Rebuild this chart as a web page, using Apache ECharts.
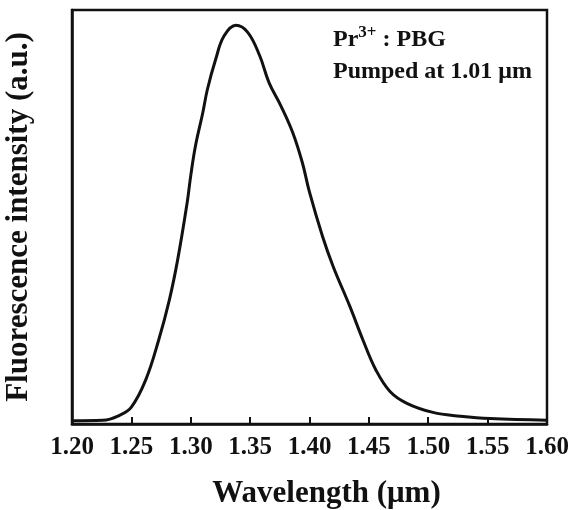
<!DOCTYPE html>
<html>
<head>
<meta charset="utf-8">
<script src="https://cdn.jsdelivr.net/npm/echarts@6/dist/echarts.min.js"></script>
<style>
  html, body { margin: 0; padding: 0; background: #fff; }
  #chart { width: 578px; height: 510px; }
</style>
</head>
<body>
<div id="chart"></div>
<script>
// wavelength (um) and fluorescence intensity (a.u.)
const wavelength = [1.200, 1.226, 1.240, 1.250, 1.262, 1.273, 1.282, 1.289, 1.297, 1.300,
  1.304, 1.310, 1.314, 1.321, 1.328, 1.338, 1.348, 1.358, 1.366, 1.376,
  1.386, 1.394, 1.400, 1.411, 1.420, 1.434, 1.445, 1.456, 1.468, 1.482,
  1.504, 1.527, 1.552, 1.600];
const intensity = [0.008, 0.009, 0.021, 0.041, 0.106, 0.203, 0.300, 0.397, 0.535, 0.600,
  0.672, 0.750, 0.808, 0.881, 0.937, 0.963, 0.946, 0.890, 0.824, 0.768,
  0.703, 0.631, 0.560, 0.453, 0.380, 0.284, 0.203, 0.130, 0.078, 0.050,
  0.028, 0.019, 0.013, 0.009];

const SERIF = '"Liberation Serif", "DejaVu Serif", serif';
const INK = '#111';

const chart = echarts.init(document.getElementById('chart'));

chart.setOption({
  animation: false,
  grid: {
    left: 72, right: 31, top: 10, bottom: 86,
    outerBoundsMode: 'none',
    show: true,
    borderColor: INK,
    borderWidth: 2.5
  },
  xAxis: {
    type: 'value',
    min: 1.2,
    max: 1.6,
    interval: 0.05,
    name: 'Wavelength (\u03bcm)',
    nameLocation: 'middle',
    nameGap: 54,
    nameTextStyle: {
      fontFamily: SERIF, fontSize: 31, fontWeight: 'bold', color: INK,
      padding: [0, 0, 0, 34]
    },
    axisLine: { show: true, lineStyle: { color: INK, width: 2.5 } },
    axisTick: { show: true, inside: true, length: 7, lineStyle: { color: INK, width: 2 } },
    axisLabel: {
      fontFamily: SERIF, fontSize: 25, fontWeight: 'bold', color: INK, margin: 11,
      formatter: v => v.toFixed(2)
    },
    splitLine: { show: false }
  },
  yAxis: {
    type: 'value',
    min: 0,
    max: 1,
    name: 'Fluorescence intensity (a.u.)',
    nameLocation: 'middle',
    nameGap: 38,
    nameRotate: 90,
    nameTextStyle: { fontFamily: SERIF, fontSize: 31, fontWeight: 'bold', color: INK },
    axisLine: { show: true, lineStyle: { color: INK, width: 2.5 } },
    axisTick: { show: false },
    axisLabel: { show: false },
    splitLine: { show: false }
  },
  graphic: [
    {
      type: 'text',
      left: 333,
      top: 24,
      style: {
        text: '{a|Pr}{s|3+}{a| : PBG}',
        fill: INK,
        rich: {
          a: { fontFamily: SERIF, fontSize: 24, fontWeight: 'bold', lineHeight: 28, verticalAlign: 'bottom' },
          s: { fontFamily: SERIF, fontSize: 17, fontWeight: 'bold', lineHeight: 28, verticalAlign: 'top' }
        }
      }
    },
    {
      type: 'text',
      left: 333,
      top: 60,
      style: {
        text: 'Pumped at 1.01 \u03bcm',
        fontFamily: SERIF,
        fontSize: 24,
        fontWeight: 'bold',
        fill: INK
      }
    }
  ],
  series: [
    {
      type: 'line',
      data: wavelength.map((w, i) => [w, intensity[i]]),
      smooth: 0.4,
      symbol: 'none',
      lineStyle: { color: INK, width: 3 }
    }
  ]
});
</script>
</body>
</html>
